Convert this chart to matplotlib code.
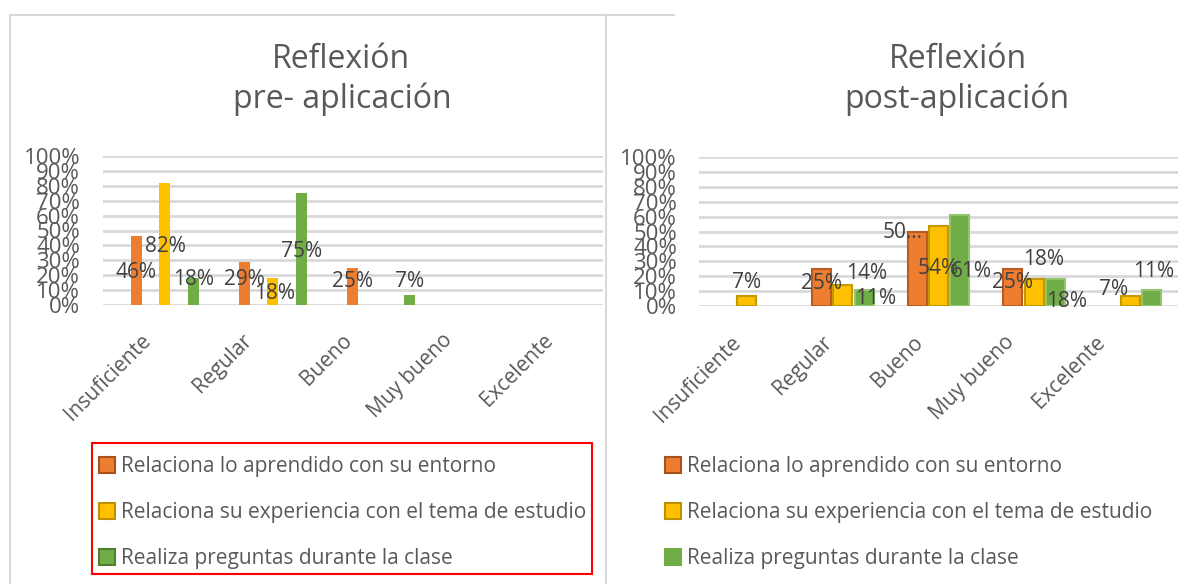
import numpy as np
import matplotlib.pyplot as plt
from matplotlib.patches import Patch, Rectangle
from matplotlib.lines import Line2D

plt.rcParams['font.family'] = ['Open Sans', 'DejaVu Sans']

# data (percent), nan = no value in the sheet
categories = ['Insuficiente', 'Regular', 'Bueno', 'Muy bueno', 'Excelente']
series = ['Relaciona lo aprendido con su entorno',
          'Relaciona su experiencia con el tema de estudio',
          'Realiza preguntas durante la clase']
nan = np.nan
pre_entorno = [46, 29, 25, nan, nan]
pre_experiencia = [82, 18, nan, nan, nan]
pre_preguntas = [18, 75, 7, nan, nan]
post_entorno = [nan, 25, 50, 25, nan]
post_experiencia = [7, 14, 54, 18, 7]
post_preguntas = [nan, 11, 61, 18, 11]

colors = ['#ED7D31', '#FFC000', '#70AD47']
edges_post = ['#B95A1E', '#C49A00', '#93C571']
legend_edges_pre = ['#A9521B', '#BF9000', '#4E7F31']
legend_edges_post = ['#A9521B', '#BF9000', '#70AD47']
grid_col = '#D9D9D9'
tick_col = '#595959'
label_col = '#404040'

# where Excel left the data labels: (dx in px, y in %)
lab_pre = [[(0, 21.5), (0, 17), (0, 16), None, None],
           [(0, 39), (2, 7.4), None, None, None],
           [(0, 17), (0, 35.6), (0, 16), None, None]]
lab_post = [[None, (0, 15.4), (-14, 49), (0, 16), None],
            [(0, 16), (24, 22), (0, 25.5), (9, 31.5), (-17, 11.4)],
            [None, (11, 4.7), (11, 23), (11, 2.7), (2, 23)]]

W, H = 1197, 584
fig = plt.figure(figsize=(W / 100, H / 100), dpi=100)


def fx(px):
    return px / W


def fy(py):
    return 1 - py / H


def make_panel(left, right, top, bottom, xlim, vals, width, step, edges,
               labs, pad, truncated=()):
    ax = fig.add_axes([fx(left), fy(bottom), fx(right) - fx(left), fy(top) - fy(bottom)])
    x = np.arange(len(categories))
    for k, v in enumerate(vals):
        off = (k - 1) * step
        ec = edges[k] if edges else 'none'
        ax.bar(x + off, v, width, color=colors[k], edgecolor=ec,
               linewidth=1.5 if edges else 0, zorder=2)
        for i, val in enumerate(v):
            if labs[k][i] is None:
                continue
            dx, ly = labs[k][i]
            txt = f'{val:.0f}%'
            if (k, i) in truncated:
                txt = txt[:2] + '…'
            ax.annotate(txt, xy=(x[i] + off, ly), xytext=(dx * 0.72, 0),
                        textcoords='offset points', ha='center', va='center',
                        fontsize=15, color=label_col, zorder=5)
    ax.set_xlim(*xlim)
    ax.set_ylim(0, 100)
    ax.set_yticks(range(0, 101, 10))
    ax.set_yticklabels([f'{t}%' for t in range(0, 101, 10)])
    ax.set_xticks([])
    ax.tick_params(axis='y', length=0, pad=pad, labelsize=16, labelcolor=tick_col)
    ax.yaxis.grid(True, color=grid_col, linewidth=2)
    ax.set_axisbelow(True)
    for s in ax.spines.values():
        s.set_visible(False)
    ax.patch.set_alpha(0)
    return ax


make_panel(103, 603, 156, 305, (-0.574, 4.056),
           [pre_entorno, pre_experiencia, pre_preguntas],
           0.102, 0.266, None, lab_pre, 16.5)
make_panel(699, 1178, 157, 306, (-0.5, 4.5),
           [post_entorno, post_experiencia, post_preguntas],
           0.198, 0.224, edges_post, lab_post, 15.8, truncated={(0, 2)})

# rotated category labels
for i, c in enumerate(categories):
    fig.text(fx(148 + 100.5 * i), fy(337), c, rotation=45, rotation_mode='anchor',
             ha='right', va='center', fontsize=15, color=tick_col)
    fig.text(fx(738 + 91 * i), fy(339), c, rotation=45, rotation_mode='anchor',
             ha='right', va='center', fontsize=15, color=tick_col)

# titles
fig.text(fx(341), fy(68), 'Reflexión', ha='center', va='baseline', fontsize=23, color=tick_col)
fig.text(fx(342), fy(108), 'pre- aplicación', ha='center', va='baseline', fontsize=23, color=tick_col)
fig.text(fx(958), fy(68), 'Reflexión', ha='center', va='baseline', fontsize=23, color=tick_col)
fig.text(fx(957), fy(108), 'post-aplicación', ha='center', va='baseline', fontsize=23, color=tick_col)

# legends
for x0, ledges in [(99, legend_edges_pre), (665, legend_edges_post)]:
    handles = [Patch(facecolor=colors[k], edgecolor=ledges[k], linewidth=1.5) for k in range(3)]
    fig.legend(handles, series, loc='upper left', bbox_to_anchor=(fx(x0), fy(456)),
               frameon=False, fontsize=15, labelcolor=tick_col, borderpad=0,
               borderaxespad=0, handlelength=0.77, handleheight=0.77,
               handletextpad=0.3, labelspacing=1.2)

# red box round the first legend
fig.add_artist(Rectangle((fx(92), fy(574)), fx(592) - fx(92), fy(443) - fy(574),
                         transform=fig.transFigure, fill=False, edgecolor='#FF0000', lw=1.5))

# chart borders
fig.add_artist(Line2D([fx(10), fx(674)], [fy(15), fy(15)], color=grid_col, lw=1.5))
fig.add_artist(Line2D([fx(10), fx(10)], [fy(15), 0], color=grid_col, lw=1.5))
fig.add_artist(Line2D([fx(606), fx(606)], [fy(15), 0], color=grid_col, lw=1.5))

fig.savefig('out.png', dpi=100)
